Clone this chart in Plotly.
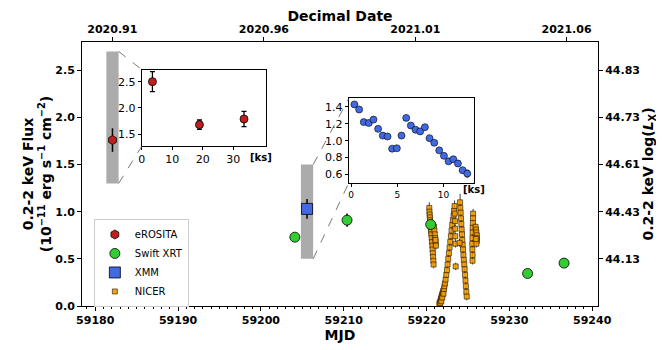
import plotly.graph_objects as go

# ---------------- data ----------------
erosita_mjd = [59182.08]
erosita_flux = [1.76]
erosita_err = [0.125]

erosita_ks = [3.5, 18.9, 33.5]
erosita_ks_flux = [2.50, 1.68, 1.79]
erosita_ks_err = [0.19, 0.09, 0.145]

swift_mjd = [59204.1, 59210.4, 59220.5, 59232.2, 59236.6]
swift_flux = [0.73, 0.91, 0.865, 0.345, 0.455]
swift_err = [0.045, 0.07, 0.05, 0.03, 0.045]

xmm_mjd = [59205.57]
xmm_flux = [1.03]
xmm_err = [0.105]

xmm_ks = [0.36, 0.87, 1.37, 1.91, 2.42, 2.92, 3.43, 3.94, 4.44, 4.95, 5.45, 5.96, 6.46,
          6.97, 7.47, 7.98, 8.48, 8.99, 9.53, 10.04, 10.54, 11.05, 11.55, 12.06, 12.56]
xmm_ks_flux = [1.43, 1.37, 1.22, 1.21, 1.25, 1.14, 1.06, 1.05, 0.905, 0.91, 1.06, 1.27, 1.18,
               1.13, 1.11, 1.16, 1.03, 0.975, 0.885, 0.82, 0.755, 0.78, 0.73, 0.65, 0.61]
xmm_ks_err = [0.02, 0.02, 0.02, 0.02, 0.02, 0.02, 0.02, 0.02, 0.02, 0.02, 0.02, 0.02, 0.02,
              0.02, 0.02, 0.02, 0.02, 0.02, 0.02, 0.02, 0.02, 0.03, 0.03, 0.03, 0.04]

nicer_mjd = [
    59220.33, 59220.35, 59220.37, 59220.40, 59220.42, 59220.45, 59220.48, 59220.52, 59220.55,
    59220.58, 59220.62, 59220.66, 59220.70, 59220.73, 59220.76, 59220.79, 59220.82, 59220.85,
    59220.90, 59220.95, 59221.00, 59221.05, 59221.10, 59221.13, 59221.08,
    59221.55, 59221.60, 59221.65, 59221.70, 59221.74, 59221.78, 59221.82, 59221.86, 59221.90,
    59221.95, 59222.00, 59222.05, 59222.10, 59222.16, 59222.22,
    59222.30, 59222.38, 59222.46, 59222.54, 59222.62, 59222.70, 59222.78, 59222.86, 59222.94,
    59223.02, 59223.10, 59223.18, 59223.26, 59223.32,
    59223.38, 59223.40, 59223.43, 59223.45, 59223.47, 59223.49, 59223.52,
    59224.05, 59224.08, 59224.12, 59224.16, 59224.20, 59224.24, 59224.28, 59224.32, 59224.36,
    59224.40, 59224.45, 59224.50, 59224.55, 59224.60, 59224.65, 59224.70, 59224.75, 59224.80,
    59224.85, 59223.98,
    59225.62, 59225.61, 59225.59, 59225.57, 59225.56, 59225.54, 59225.52, 59225.53, 59225.56,
    59225.55,
    59225.92, 59225.97, 59226.02, 59226.06, 59226.09, 59226.07, 59226.02, 59225.96,
]
nicer_flux = [
    1.04, 1.00, 0.97, 0.94, 0.91, 0.88, 0.85, 0.82, 0.79,
    0.76, 0.72, 0.68, 0.64, 0.60, 0.56, 0.52, 0.48, 0.44,
    0.84, 0.80, 0.76, 0.72, 0.68, 0.64, 0.70,
    0.02, 0.04, 0.03, 0.06, 0.08, 0.05, 0.10, 0.12, 0.09,
    0.14, 0.16, 0.13, 0.18, 0.21, 0.24,
    0.28, 0.33, 0.38, 0.44, 0.50, 0.56, 0.62, 0.68, 0.74,
    0.80, 0.86, 0.91, 0.96, 1.01,
    1.06, 0.98, 0.90, 0.82, 0.74, 0.66, 0.42,
    1.10, 1.04, 0.99, 0.93, 0.87, 0.81, 0.76, 0.70, 0.65,
    0.60, 0.54, 0.49, 0.44, 0.39, 0.33, 0.27, 0.21, 0.15,
    0.10, 0.67,
    0.98, 0.93, 0.88, 0.83, 0.78, 0.72, 0.66, 0.60, 0.54,
    0.48,
    0.84, 0.81, 0.78, 0.75, 0.72, 0.69, 0.66, 0.71,
]
nicer_err = [
    0.06, 0.05, 0.05, 0.04, 0.04, 0.04, 0.04, 0.04, 0.04,
    0.04, 0.04, 0.04, 0.04, 0.04, 0.04, 0.04, 0.04, 0.04,
    0.04, 0.04, 0.04, 0.04, 0.04, 0.04, 0.04,
    0.04, 0.04, 0.04, 0.04, 0.04, 0.04, 0.04, 0.04, 0.04,
    0.04, 0.04, 0.04, 0.04, 0.04, 0.04,
    0.04, 0.04, 0.04, 0.04, 0.04, 0.04, 0.04, 0.04, 0.04,
    0.04, 0.04, 0.04, 0.05, 0.05,
    0.06, 0.05, 0.05, 0.04, 0.04, 0.04, 0.04,
    0.09, 0.06, 0.05, 0.05, 0.04, 0.04, 0.04, 0.04, 0.04,
    0.04, 0.04, 0.04, 0.04, 0.04, 0.04, 0.04, 0.04, 0.04,
    0.04, 0.04,
    0.05, 0.04, 0.04, 0.04, 0.04, 0.04, 0.04, 0.04, 0.04,
    0.04,
    0.04, 0.04, 0.04, 0.04, 0.04, 0.04, 0.04, 0.04,
]

flux_ticks = [0.0, 0.5, 1.0, 1.5, 2.0, 2.5]
lum_tick_flux = [0.5, 1.0, 1.5, 2.0, 2.5]
lum_tick_labels = ["44.13", "44.43", "44.61", "44.73", "44.83"]
mjd_ticks = [59180, 59190, 59200, 59210, 59220, 59230, 59240]
decimal_tick_labels = ["2020.91", "2020.96", "2021.01", "2021.06"]

# ---------------- helpers ----------------
def decimal_year_to_mjd(label):
    v = float(label)
    year = int(v)
    frac = v - year
    ndays = 366 if (year % 4 == 0 and (year % 100 != 0 or year % 400 == 0)) else 365
    mjd_jan1 = {2020: 58849, 2021: 59215}[year]
    return mjd_jan1 + frac * ndays

decimal_tick_vals = [decimal_year_to_mjd(s) for s in decimal_tick_labels]

XR = [59178.4, 59240.7]
YR = [0.0, 2.8]
ER_YLIM = [1.27, 2.73]
XMM_YLIM = [0.5, 1.5]
RECT_HALF = 0.74

INSET1 = dict(x=[0.1158, 0.356], y=[0.605, 0.8956])
INSET2 = dict(x=[0.517, 0.759], y=[0.4665, 0.786])

def to_paper(xd, yd):
    return ((xd - XR[0]) / (XR[1] - XR[0]), (yd - YR[0]) / (YR[1] - YR[0]))

FONT = "DejaVu Sans"
RED = "#C21E1E"
GREEN = "#33CC33"
BLUE = "#4169E1"
ORANGE = "rgba(245,155,0,0.9)"

fig = go.Figure()

# NICER
fig.add_trace(go.Scatter(
    x=nicer_mjd, y=nicer_flux, mode="markers", name="NICER",
    marker=dict(symbol="square", size=5, color=ORANGE, line=dict(color="rgba(40,25,0,0.9)", width=0.7)),
    error_y=dict(type="data", array=nicer_err, color="rgba(20,20,20,0.8)", thickness=1, width=0),
    legendrank=4, xaxis="x", yaxis="y"))

# eROSITA main
fig.add_trace(go.Scatter(
    x=erosita_mjd, y=erosita_flux, mode="markers", name="eROSITA",
    marker=dict(symbol="hexagon", size=9, color=RED, line=dict(color="black", width=0.8)),
    error_y=dict(type="data", array=erosita_err, color="black", thickness=1.5, width=0),
    legendrank=1, xaxis="x", yaxis="y"))

# Swift
fig.add_trace(go.Scatter(
    x=swift_mjd, y=swift_flux, mode="markers", name="Swift XRT",
    marker=dict(symbol="circle", size=10, color=GREEN, line=dict(color="black", width=0.8)),
    error_y=dict(type="data", array=swift_err, color="black", thickness=1.5, width=0),
    legendrank=2, xaxis="x", yaxis="y"))

# XMM main
fig.add_trace(go.Scatter(
    x=xmm_mjd, y=xmm_flux, mode="markers", name="XMM",
    marker=dict(symbol="square", size=11, color=BLUE, line=dict(color="black", width=0.8)),
    error_y=dict(type="data", array=xmm_err, color="black", thickness=1.5, width=0),
    legendrank=3, xaxis="x", yaxis="y"))

# empty trace for the twin axes
fig.add_trace(go.Scatter(x=[], y=[], xaxis="x2", yaxis="y2", showlegend=False, hoverinfo="skip"))

# Inset 1 eROSITA
fig.add_trace(go.Scatter(
    x=erosita_ks, y=erosita_ks_flux, mode="markers", showlegend=False,
    marker=dict(symbol="circle", size=8, color=RED, line=dict(color="black", width=0.8)),
    error_y=dict(type="data", array=erosita_ks_err, color="black", thickness=1.3, width=2.5),
    xaxis="x3", yaxis="y3"))

# Inset 2 XMM
fig.add_trace(go.Scatter(
    x=xmm_ks, y=xmm_ks_flux, mode="markers", showlegend=False,
    marker=dict(symbol="circle", size=7, color=BLUE, line=dict(color="black", width=0.6)),
    error_y=dict(type="data", array=xmm_ks_err, color="black", thickness=1, width=1.5),
    xaxis="x4", yaxis="y4"))

shapes = []
for xc, ylim in [(erosita_mjd[0], [1.3, 2.7]), (xmm_mjd[0], XMM_YLIM)]:
    shapes.append(dict(type="rect", xref="x", yref="y", x0=xc - RECT_HALF, x1=xc + RECT_HALF,
                       y0=ylim[0], y1=ylim[1], fillcolor="#ABABAB", line=dict(width=0), layer="below"))

for xc, ylim, ins in [(erosita_mjd[0], [1.3, 2.7], INSET1), (xmm_mjd[0], XMM_YLIM, INSET2)]:
    px, py_top = to_paper(xc + RECT_HALF, ylim[1])
    _, py_bot = to_paper(xc + RECT_HALF, ylim[0])
    shapes.append(dict(type="line", xref="paper", yref="paper", x0=px, y0=py_top,
                       x1=ins["x"][0], y1=ins["y"][1], line=dict(color="#555", width=0.8, dash="dash")))
    shapes.append(dict(type="line", xref="paper", yref="paper", x0=px, y0=py_bot,
                       x1=ins["x"][0], y1=ins["y"][0], line=dict(color="#555", width=0.8, dash="dash")))

bold_tick = dict(family=FONT, size=11, color="black", weight="bold")
title_font = dict(family=FONT, size=14, color="black")

common_main = dict(showline=True, linecolor="black", linewidth=1, ticks="outside", ticklen=4,
                   tickcolor="black", showgrid=False, zeroline=False, tickfont=bold_tick,
                   automargin=False)

inset_common = dict(showline=True, mirror=True, linecolor="black", linewidth=1, ticks="outside",
                    ticklen=3, tickcolor="black", showgrid=False, zeroline=False, automargin=False)

# the page body adds an 8 px offset, so the figure is 8 px smaller than the window
fig.update_layout(
    width=656, height=342,
    margin=dict(l=74, r=66, t=34, b=44, autoexpand=False),
    paper_bgcolor="white", plot_bgcolor="white",
    font=dict(family=FONT, color="black"),
    xaxis=dict(range=XR, tickvals=mjd_ticks, tickformat="d", anchor="y",
               minor=dict(dtick=1, tick0=59180, ticks="outside", ticklen=2, tickcolor="black"),
               title=dict(text="<b>MJD</b>", font=title_font, standoff=2), **common_main),
    yaxis=dict(range=YR, tickvals=flux_ticks, tickformat=".1f", anchor="x",
               title=dict(text="<b>0.2-2 keV Flux<br>(10<sup>−11</sup> erg s<sup>−1</sup> cm<sup>−2</sup>)</b>",
                          font=title_font, standoff=0), **common_main),
    xaxis2=dict(range=XR, overlaying="x", side="top", anchor="y", tickvals=decimal_tick_vals,
                ticktext=decimal_tick_labels,
                title=dict(text="<b>Decimal Date</b>", font=title_font, standoff=2), **common_main),
    yaxis2=dict(range=YR, overlaying="y", side="right", anchor="x", tickvals=lum_tick_flux,
                ticktext=lum_tick_labels,
                title=dict(text="<b>0.2-2 keV log(<i>L</i><sub>X</sub>)</b>", font=title_font, standoff=4),
                **common_main),
    xaxis3=dict(domain=INSET1["x"], anchor="y3", range=[0, 40.6], tickvals=[0, 10, 20, 30],
                tickfont=dict(family=FONT, size=11, color="black"), **inset_common),
    yaxis3=dict(domain=INSET1["y"], anchor="x3", range=ER_YLIM, tickvals=[1.5, 2.0, 2.5], tickformat=".1f",
                tickfont=dict(family=FONT, size=11, color="black"), **inset_common),
    xaxis4=dict(domain=INSET2["x"], anchor="y4", range=[-0.25, 13.25], tickvals=[0, 5, 10],
                tickfont=dict(family=FONT, size=9, color="black"), **inset_common),
    yaxis4=dict(domain=INSET2["y"], anchor="x4", range=XMM_YLIM, tickvals=[0.6, 0.8, 1.0, 1.2, 1.4],
                tickformat=".1f", tickfont=dict(family=FONT, size=11, color="black"), **inset_common),
    shapes=shapes,
    legend=dict(x=0.023, y=0.163, xanchor="left", yanchor="middle", bgcolor="white",
                bordercolor="#CCCCCC", borderwidth=1, font=dict(family=FONT, size=10, color="black"),
                tracegroupgap=0, itemwidth=30),
    showlegend=True,
    annotations=[
        dict(text="<b>[ks]</b>", xref="paper", yref="paper", x=INSET1["x"][1] - 0.01, y=INSET1["y"][0] - 0.041,
             xanchor="center", yanchor="middle", showarrow=False, font=dict(family=FONT, size=10, color="black")),
        dict(text="<b>[ks]</b>", xref="paper", yref="paper", x=INSET2["x"][1], y=INSET2["y"][0] - 0.026,
             xanchor="center", yanchor="middle", showarrow=False, font=dict(family=FONT, size=10, color="black")),
    ],
)

fig.write_html("out.html")
